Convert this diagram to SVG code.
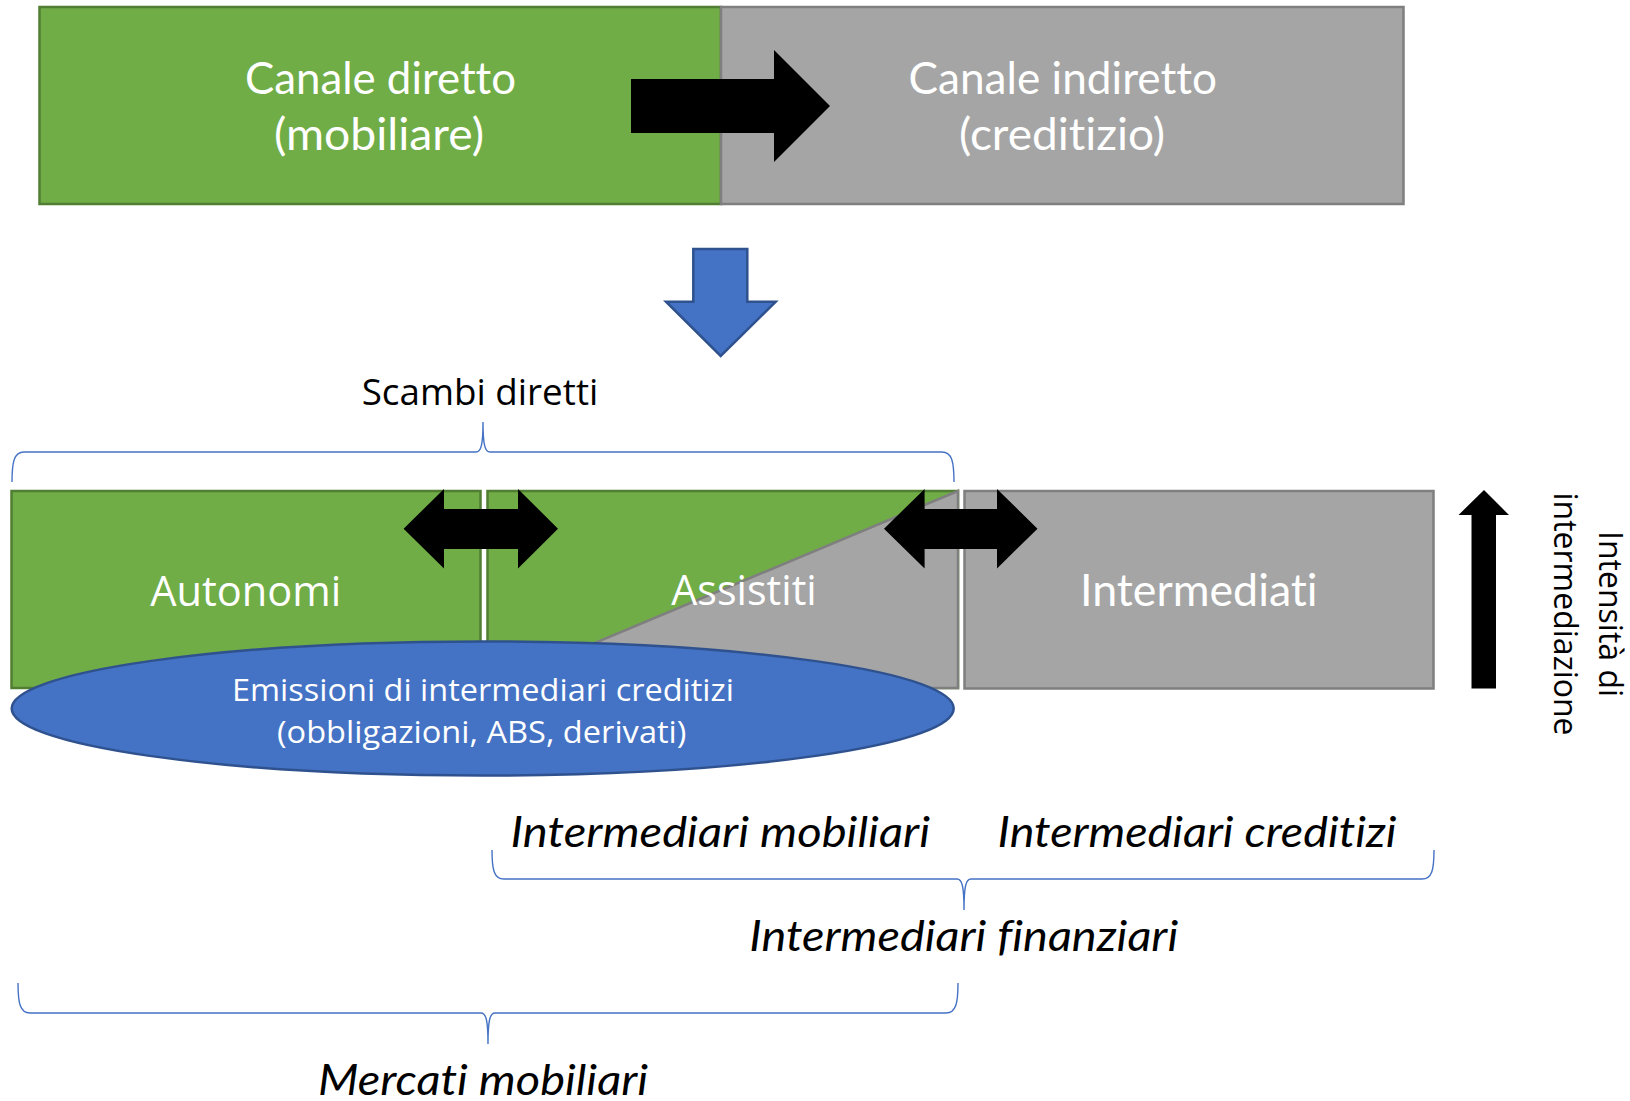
<svg xmlns="http://www.w3.org/2000/svg" width="1630" height="1101" viewBox="0 0 1630 1101">
<style>
text{font-variant-ligatures:none}
.green{fill:#70AD47;stroke:#507E32;stroke-width:2.5}
.gray{fill:#A5A5A5;stroke:#7F7F7F;stroke-width:2.5}
.blue{fill:#4472C4;stroke:#2F528F;stroke-width:2.5}
.blk{fill:#000000;stroke:none}
.brace{fill:none;stroke:#4472C4;stroke-width:1.4}
.cal{font-family:Lato,"Open Sans","Liberation Sans",sans-serif;font-weight:400;font-size:44px;fill:#FFFFFF;text-anchor:middle}
.seg{font-family:"Open Sans","Noto Sans","Liberation Sans",sans-serif;text-anchor:middle}
.ital{font-family:Lato,"Open Sans","Liberation Sans",sans-serif;font-style:italic;font-size:42px;fill:#000000;text-anchor:middle}
</style>
<rect width="1630" height="1101" fill="#FFFFFF"/>

<g id="canale-diretto">
<rect class="green" x="39.5" y="7" width="681.5" height="197"/>
<text class="cal" x="380.5" y="94" textLength="271" lengthAdjust="spacingAndGlyphs">Canale diretto</text>
<text class="cal" x="379" y="150" textLength="210" lengthAdjust="spacingAndGlyphs">(mobiliare)</text>
</g>
<g id="canale-indiretto">
<rect class="gray" x="721" y="7" width="682.5" height="197"/>
<text class="cal" x="1062.8" y="94" textLength="308.5" lengthAdjust="spacingAndGlyphs">Canale indiretto</text>
<text class="cal" x="1062" y="150" textLength="206" lengthAdjust="spacingAndGlyphs">(creditizio)</text>
</g>

<g id="autonomi">
<rect class="green" x="11.5" y="491" width="469" height="197"/>
<text class="seg" x="245.7" y="606" font-size="42" fill="#FFFFFF" textLength="191" lengthAdjust="spacingAndGlyphs">Autonomi</text>
</g>
<g id="assistiti">
<rect class="green" x="487.5" y="491" width="470.5" height="197"/>
<polygon class="gray" points="958,491 958,688 487.5,688"/>
<text class="seg" x="744" y="605" font-size="42" fill="#FFFFFF" textLength="145.4" lengthAdjust="spacingAndGlyphs">Assistiti</text>
</g>
<g id="intermediati">
<rect class="gray" x="964.5" y="491" width="469" height="197.5"/>
<text class="cal" x="1198.8" y="605.7" textLength="237.6" lengthAdjust="spacingAndGlyphs">Intermediati</text>
</g>

<g id="emissioni">
<ellipse class="blue" cx="482.7" cy="708.5" rx="471" ry="67"/>
<text class="seg" x="483" y="700.5" font-size="31" fill="#FFFFFF" textLength="502" lengthAdjust="spacingAndGlyphs">Emissioni di intermediari creditizi</text>
<text class="seg" x="481.7" y="743" font-size="31" fill="#FFFFFF" textLength="409.5" lengthAdjust="spacingAndGlyphs">(obbligazioni, ABS, derivati)</text>
</g>

<g id="scambi-diretti">
<text class="seg" x="480" y="405" font-size="36" fill="#000000" textLength="236.6" lengthAdjust="spacingAndGlyphs">Scambi diretti</text>
</g>

<g id="intensita">
<text class="seg" transform="translate(1599,614) rotate(90)" font-size="32" fill="#000000"><tspan x="0" y="0">Intensità di</tspan><tspan x="0" y="45">intermediazione</tspan></text>
</g>

<g id="label-mobiliari">
<text class="ital" x="720.3" y="847" textLength="419.4" lengthAdjust="spacingAndGlyphs">Intermediari mobiliari</text>
</g>
<g id="label-creditizi">
<text class="ital" x="1197" y="847" textLength="399" lengthAdjust="spacingAndGlyphs">Intermediari creditizi</text>
</g>
<g id="label-finanziari">
<text class="ital" x="963.7" y="951" textLength="429" lengthAdjust="spacingAndGlyphs">Intermediari finanziari</text>
</g>
<g id="label-mercati">
<text class="ital" x="483" y="1095" textLength="330" lengthAdjust="spacingAndGlyphs">Mercati mobiliari</text>
</g>

<g id="connectors">
<polygon class="blk" points="631,79 774,79 774,50 830,106 774,162 774,133 631,133"/>
<polygon class="blue" points="693.3,249 747.3,249 747.3,301.7 775.7,301.7 720.7,356 666,301.7 693.3,301.7"/>
<polygon class="blk" points="403.6,528.7 444,489 444,509 518,509 518,489 558,528.7 518,568.4 518,549 444,549 444,568.4"/>
<polygon class="blk" points="884,528.7 924.6,489 924.6,509 997,509 997,489 1037.5,528.7 997,568.4 997,549 924.6,549 924.6,568.4"/>
<polygon class="blk" points="1484,490 1509,515 1496,515 1496,688.5 1471.5,688.5 1471.5,515 1458.5,515"/>
<path class="brace" d="M12,482 C12,462 14,452 24,452 L476,452 C481,452 483,445 483,422 C483,445 485,452 490,452 L942,452 C952,452 954,462 954,482"/>
<path class="brace" d="M492,850 C492,870 494,879 504,879 L957,879 C962,879 964,886 964,910 C964,886 966,879 971,879 L1422,879 C1432,879 1434,870 1434,850"/>
<path class="brace" d="M18,983 C18,1003 20,1013 30,1013 L481,1013 C486,1013 488,1020 488,1044 C488,1020 490,1013 495,1013 L946,1013 C956,1013 958,1003 958,983"/>
</g>
</svg>
